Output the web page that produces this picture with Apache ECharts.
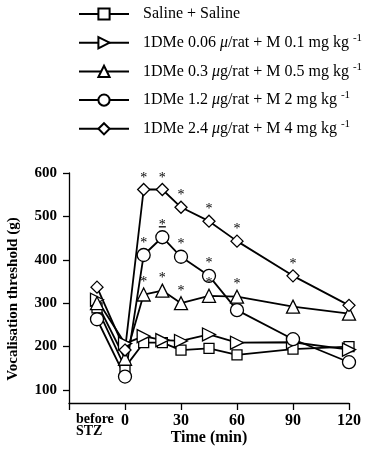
<!DOCTYPE html>
<html>
<head>
<meta charset="utf-8">
<script src="https://cdn.jsdelivr.net/npm/echarts@6/dist/echarts.min.js"></script>
<style>
  html, body { margin: 0; padding: 0; background: #fff; }
  #main { width: 381px; height: 449px; }
</style>
</head>
<body>
<div id="main"></div>
<script>
// time points (min); -15 stands for "before STZ"
const times = [-15, 0, 10, 20, 30, 45, 60, 90, 120];

const salineVals = [289, 152, 209, 209, 192, 196, 181, 194, 200];
const dose006Vals = [308, 207, 224, 215, 213, 228, 209, 210, 193];
const dose03Vals = [300, 172, 320, 329, 300, 317, 315, 292, 276];
const dose12Vals = [263, 131, 411, 452, 407, 363, 284, 217, 164];
const dose24Vals = [337, 192, 562, 562, 521, 489, 443, 363, 295];

// asterisks (significance) per point
const dose03Sig = [0, 0, 1, 1, 1, 1, 1, 0, 0];
const dose12Sig = [0, 0, 1, 1, 1, 1, 0, 0, 0];
const dose24Sig = [0, 0, 1, 1, 1, 1, 1, 1, 0];
const noSig = [0, 0, 0, 0, 0, 0, 0, 0, 0];

// the one visible SEM cap (1.2 µg group at 20 min)
const semCaps = [[20, 476]];

const names = [
  'Saline + Saline',
  '1DMe 0.06 μ/rat + M 0.1 mg kg -1',
  '1DMe 0.3 μg/rat + M 0.5 mg kg -1',
  '1DMe 1.2 μg/rat + M 2 mg kg -1',
  '1DMe 2.4 μg/rat + M 4 mg kg -1'
];

const yTicks = [100, 200, 300, 400, 500, 600];
const xLabels = [-15, 0, 30, 60, 90, 120];
const xTicks = [-30, 0, 30, 60, 90, 120];

const serif = 'Liberation Serif';

function points(vals, sig) {
  return times.map((t, i) => ({ value: [t, vals[i]], label: { show: !!sig[i] } }));
}

function lineSeries(name, vals, sig, symbol, size, rotate) {
  return {
    name: name,
    type: 'line',
    data: points(vals, sig),
    symbol: symbol,
    symbolSize: size,
    symbolRotate: rotate || 0,
    showAllSymbol: true,
    lineStyle: { color: '#000', width: 1.8 },
    itemStyle: { color: '#fff', borderColor: '#000', borderWidth: 1.3 },
    label: {
      position: 'top',
      distance: -2,
      formatter: '*',
      fontFamily: serif,
      fontSize: 14,
      color: '#000'
    },
    emphasis: { disabled: true },
    animation: false
  };
}

const chart = echarts.init(document.getElementById('main'), null, { renderer: 'canvas' });

chart.setOption({
  backgroundColor: '#fff',
  animation: false,
  grid: { left: 69, right: 32, top: 173, bottom: 46, containLabel: false, outerBoundsMode: 'none' },
  legend: {
    data: names,
    orient: 'vertical',
    left: 78,
    top: 4,
    padding: 0,
    itemWidth: 50,
    itemHeight: 14,
    itemGap: 8.7,
    selectedMode: false,
    textStyle: {
      fontFamily: serif,
      fontSize: 16,
      lineHeight: 20,
      color: '#000',
      padding: [0, 0, 0, 9],
      rich: {
        mu: { fontFamily: serif, fontSize: 16, fontStyle: 'italic', lineHeight: 20, color: '#000' },
        sup: { fontFamily: serif, fontSize: 11, lineHeight: 11, verticalAlign: 'top', color: '#000' }
      }
    },
    formatter: function (name) {
      return name.replace('μ', '{mu|μ}').replace(' -1', ' {sup|-1}');
    }
  },
  xAxis: {
    type: 'value',
    min: -30,
    max: 120,
    name: 'Time (min)',
    nameLocation: 'middle',
    nameGap: 27,
    nameMoveOverlap: false,
    nameTextStyle: { fontFamily: serif, fontSize: 16, fontWeight: 'bold', color: '#000' },
    axisLine: { onZero: false, lineStyle: { color: '#000', width: 1.3 } },
    axisTick: { show: true, inside: false, length: 7, customValues: xTicks, lineStyle: { color: '#000', width: 1.3 } },
    axisLabel: {
      customValues: xLabels,
      margin: 10,
      fontFamily: serif,
      fontSize: 16,
      fontWeight: 'bold',
      color: '#000',
      formatter: function (v) {
        return v === -15 ? '{b|before}\n{b|STZ}' : String(v);
      },
      rich: {
        b: { fontFamily: serif, fontSize: 14, fontWeight: 'bold', lineHeight: 12, width: 42, align: 'left', color: '#000' }
      }
    },
    splitLine: { show: false }
  },
  yAxis: {
    type: 'value',
    min: 70,
    max: 600,
    axisLine: { show: true, onZero: false, lineStyle: { color: '#000', width: 1.3 } },
    axisTick: { show: true, inside: false, length: 6, customValues: yTicks, lineStyle: { color: '#000', width: 1.3 } },
    axisLabel: {
      customValues: yTicks,
      margin: 12,
      fontFamily: serif,
      fontSize: 15,
      fontWeight: 'bold',
      color: '#000'
    },
    splitLine: { show: false }
  },
  graphic: [{
    type: 'text',
    x: 13,
    y: 299,
    rotation: Math.PI / 2,
    style: {
      text: 'Vocalisation threshold (g)',
      fontFamily: serif,
      fontSize: 15,
      fontWeight: 'bold',
      fill: '#000',
      textAlign: 'center',
      textVerticalAlign: 'middle'
    }
  }],
  series: [
    lineSeries(names[0], salineVals, noSig, 'rect', 10),
    lineSeries(names[1], dose006Vals, noSig, 'triangle', 13, -90),
    lineSeries(names[2], dose03Vals, dose03Sig, 'triangle', 13),
    lineSeries(names[3], dose12Vals, dose12Sig, 'circle', 13),
    lineSeries(names[4], dose24Vals, dose24Sig, 'diamond', 12),
    {
      name: 'sem',
      type: 'custom',
      data: semCaps,
      silent: true,
      renderItem: function (params, api) {
        const p = api.coord([api.value(0), api.value(1)]);
        return {
          type: 'line',
          shape: { x1: p[0] - 3.5, y1: p[1], x2: p[0] + 3.5, y2: p[1] },
          style: { stroke: '#000', lineWidth: 1.3 }
        };
      },
      animation: false
    }
  ]
});
</script>
</body>
</html>
